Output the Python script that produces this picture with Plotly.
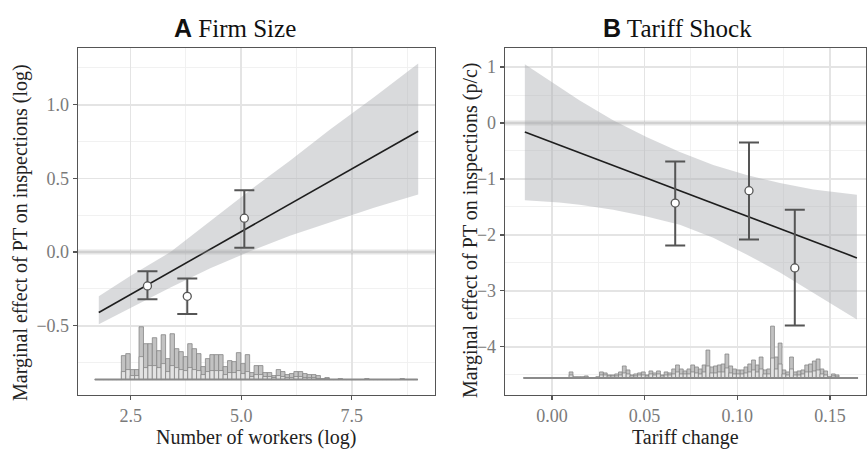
import plotly.graph_objects as go

# ---------------- Panel A: Firm Size ----------------
a_line_x = [1.78, 9.0]
a_line_y = [-0.41, 0.82]
a_band_x = [1.78, 2.5, 3.4, 4.3, 5.2, 6.1, 7.0, 8.0, 9.0]
a_band_hi = [-0.30, -0.16, 0.0, 0.21, 0.42, 0.62, 0.83, 1.05, 1.28]
a_band_lo = [-0.49, -0.38, -0.24, -0.11, 0.005, 0.11, 0.20, 0.30, 0.39]
a_pts_x = [2.88, 3.78, 5.07]
a_pts_y = [-0.23, -0.30, 0.23]
a_pts_hi = [-0.13, -0.18, 0.42]
a_pts_lo = [-0.32, -0.42, 0.03]

a_hist_start = 1.69
a_hist_width = 0.1
a_hist_total = ([0] * 6 +
                [24, 26, 10, 10, 53, 36, 36, 42, 29, 45, 21, 46, 31, 28, 23, 36, 31, 26, 13, 21,
                 25, 25, 25, 13, 19, 18, 27, 16, 25, 7, 14, 14, 7, 7, 4, 10, 8, 5, 6, 8,
                 8, 6, 5, 5, 4, 1, 2] +
                [0, 0, 1, 0, 0, 0, 0, 0, 1, 0, 0, 0, 0, 0, 0, 0, 1, 0, 0, 0])
a_hist_lower = ([0] * 6 +
                [8, 10, 4, 4, 23, 12, 14, 14, 12, 16, 8, 14, 12, 10, 9, 12, 10, 9, 5, 8,
                 9, 9, 9, 5, 7, 7, 9, 6, 8, 3, 5, 5, 3, 3, 2, 4, 3, 2, 2, 3,
                 3, 2, 2, 2, 1, 0, 1] +
                [0] * 20)
a_hist_base = -0.865
a_hist_scale = 1 / 148.0
a_x_ticks = [2.5, 5.0, 7.5]
a_x_labels = ["2.5", "5.0", "7.5"]
a_y_ticks = [-0.5, 0.0, 0.5, 1.0]
a_y_labels = ["\u22120.5", "0.0", "0.5", "1.0"]

# ---------------- Panel B: Tariff Shock ----------------
b_line_x = [-0.0146, 0.1645]
b_line_y = [-0.16, -2.41]
b_band_x = [-0.0146, 0.004, 0.015, 0.033, 0.051, 0.069, 0.087, 0.105, 0.123, 0.141, 0.1645]
b_band_hi = [1.05, 0.64, 0.40, 0.05, -0.25, -0.52, -0.75, -0.93, -1.07, -1.19, -1.28]
b_band_lo = [-1.38, -1.42, -1.46, -1.55, -1.67, -1.82, -2.05, -2.35, -2.67, -3.03, -3.51]
b_pts_x = [0.0665, 0.1063, 0.131]
b_pts_y = [-1.43, -1.21, -2.59]
b_pts_hi = [-0.69, -0.35, -1.55]
b_pts_lo = [-2.19, -2.08, -3.62]

b_hist_start = -0.0153
b_hist_width = 0.00205
b_hist_total = ([0] * 12 +
                [6, 1, 1, 1, 2, 0, 0, 1,
                 6, 5, 3, 3, 4, 6, 12, 8, 3, 4,
                 5, 6, 3, 7, 5, 7, 3, 6, 5, 9,
                 13, 9, 7, 9, 13, 11, 9, 13, 28, 11,
                 12, 13, 14, 24, 12, 9, 8, 8, 11, 14,
                 18, 13, 21, 8, 9, 52, 21, 35, 8, 6,
                 21, 6, 7, 8, 13, 14, 17, 19, 9, 7,
                 1, 4, 3] +
                [0] * 5)
b_hist_lower = ([0] * 12 +
                [3, 1, 1, 1, 1, 0, 0, 1,
                 3, 3, 2, 2, 2, 3, 5, 4, 2, 2,
                 3, 3, 2, 4, 3, 4, 2, 3, 3, 4,
                 6, 4, 4, 4, 6, 5, 4, 6, 12, 5,
                 5, 6, 6, 10, 5, 4, 4, 4, 5, 6,
                 8, 6, 9, 4, 4, 20, 9, 14, 4, 3,
                 9, 3, 3, 4, 6, 6, 7, 8, 4, 3,
                 1, 2, 1] +
                [0] * 5)
b_hist_base = -4.555
b_hist_scale = 1 / 56.2
b_x_ticks = [0.0, 0.05, 0.10, 0.15]
b_x_labels = ["0.00", "0.05", "0.10", "0.15"]
b_y_ticks = [-4, -3, -2, -1, 0, 1]
b_y_labels = ["\u22124", "\u22123", "\u22122", "\u22121", "0", "1"]

# ---------------- styling ----------------
W, H = 867, 450
SERIF = "Liberation Serif, Times New Roman, serif"
BAND = "rgba(170,172,178,0.45)"
DARK = "#555555"

fig = go.Figure()


def add_panel(xa, ya, line_x, line_y, band_x, hi, lo, px, py, phi, plo,
              h_start, h_width, h_total, h_lower, h_base, h_scale):
    # confidence band
    fig.add_trace(go.Scatter(
        x=band_x + band_x[::-1], y=hi + lo[::-1], fill="toself",
        fillcolor=BAND, line=dict(width=0), mode="lines",
        hoverinfo="skip", showlegend=False, xaxis=xa, yaxis=ya))
    # histogram
    n = len(h_total)
    centers = [h_start + (i + 0.5) * h_width for i in range(n)]
    tot = [v * h_scale for v in h_total]
    low = [v * h_scale for v in h_lower]
    fig.add_trace(go.Scatter(
        x=[h_start, h_start + n * h_width], y=[h_base, h_base], mode="lines",
        line=dict(color="#8a8a8a", width=2), showlegend=False,
        hoverinfo="skip", xaxis=xa, yaxis=ya))
    fig.add_trace(go.Bar(
        x=centers, y=tot, base=h_base, width=h_width,
        marker=dict(color="#c2c2c2", line=dict(color="#858585", width=0.8)),
        showlegend=False, xaxis=xa, yaxis=ya))
    fig.add_trace(go.Bar(
        x=centers, y=low, base=h_base, width=h_width,
        marker=dict(color="#e2e2e2", line=dict(color="#858585", width=0.8)),
        showlegend=False, xaxis=xa, yaxis=ya))
    # fitted line
    fig.add_trace(go.Scatter(
        x=line_x, y=line_y, mode="lines", line=dict(color="#1e1e1e", width=1.6),
        showlegend=False, xaxis=xa, yaxis=ya))
    # binned estimates
    fig.add_trace(go.Scatter(
        x=px, y=py, mode="markers",
        marker=dict(color="white", size=8, line=dict(color=DARK, width=1.3)),
        error_y=dict(type="data", symmetric=False,
                     array=[h - y for h, y in zip(phi, py)],
                     arrayminus=[y - l for l, y in zip(plo, py)],
                     color=DARK, thickness=2, width=10),
        showlegend=False, xaxis=xa, yaxis=ya))


add_panel("x", "y", a_line_x, a_line_y, a_band_x, a_band_hi, a_band_lo,
          a_pts_x, a_pts_y, a_pts_hi, a_pts_lo,
          a_hist_start, a_hist_width, a_hist_total, a_hist_lower, a_hist_base, a_hist_scale)
add_panel("x2", "y2", b_line_x, b_line_y, b_band_x, b_band_hi, b_band_lo,
          b_pts_x, b_pts_y, b_pts_hi, b_pts_lo,
          b_hist_start, b_hist_width, b_hist_total, b_hist_lower, b_hist_base, b_hist_scale)

ydom = [1 - 395 / H, 1 - 48 / H]


def axis(dom, rng, ticks, labels, minor_vals, anchor):
    return dict(
        domain=dom, range=rng, tickvals=ticks, ticktext=labels,
        showline=True, mirror=True, linecolor=DARK, linewidth=1.3,
        ticks="outside", ticklen=4, tickwidth=1.2, tickcolor=DARK,
        tickfont=dict(family=SERIF, size=18, color="#7a7a7a"),
        showgrid=True, gridcolor="#e4e4e4", gridwidth=1.6, zeroline=False,
        minor=dict(tickvals=minor_vals, showgrid=True, gridcolor="#efefef",
                   gridwidth=0.9, ticks=""),
        anchor=anchor, fixedrange=True)


fig.update_layout(
    width=W, height=H, margin=dict(l=0, r=0, t=0, b=0),
    paper_bgcolor="white", plot_bgcolor="white", barmode="overlay", bargap=0,
    showlegend=False, hovermode=False,
    xaxis=axis([78 / W, 435 / W], [1.31, 9.38], a_x_ticks, a_x_labels,
               [3.75, 6.25, 8.75], "y"),
    yaxis=axis(ydom, [-0.97, 1.385], a_y_ticks, a_y_labels,
               [-0.75, -0.25, 0.25, 0.75, 1.25], "x"),
    xaxis2=axis([505 / W, 866 / W], [-0.0253, 0.1694], b_x_ticks, b_x_labels,
                [-0.025, 0.025, 0.075, 0.125], "y2"),
    yaxis2=axis(ydom, [-4.86, 1.34], b_y_ticks, b_y_labels,
                [-4.5, -3.5, -2.5, -1.5, -0.5, 0.5], "x2"),
)

# reference lines at zero
for xr, yr in (("x domain", "y"), ("x2 domain", "y2")):
    fig.add_shape(type="line", xref=xr, yref=yr, x0=0, x1=1, y0=0, y1=0,
                  line=dict(color="rgba(160,160,160,0.28)", width=5), layer="above")

ann = []
ann.append(dict(x=235 / W, y=1 - 28 / H,
                text="<span style='font-family:Liberation Sans, Arial; font-weight:bold'>A</span> Firm Size",
                font=dict(family=SERIF, size=25, color="#111111")))
ann.append(dict(x=677 / W, y=1 - 28 / H,
                text="<span style='font-family:Liberation Sans, Arial; font-weight:bold'>B</span> Tariff Shock",
                font=dict(family=SERIF, size=25, color="#111111")))
ann.append(dict(x=256 / W, y=1 - 437 / H, text="Number of workers (log)",
                font=dict(family=SERIF, size=20, color="#222222")))
ann.append(dict(x=685 / W, y=1 - 437 / H, text="Tariff change",
                font=dict(family=SERIF, size=20, color="#222222")))
ann.append(dict(x=20 / W, y=1 - 233 / H, text="Marginal effect of PT on inspections (log)",
                textangle=-90, font=dict(family=SERIF, size=20, color="#222222")))
ann.append(dict(x=470 / W, y=1 - 231 / H, text="Marginal effect of PT on inspections (p/c)",
                textangle=-90, font=dict(family=SERIF, size=20, color="#222222")))
for a in ann:
    a.update(xref="paper", yref="paper", showarrow=False, xanchor="center", yanchor="middle")
fig.update_layout(annotations=ann)

fig.write_html("out.html", config={"displayModeBar": False, "staticPlot": True},
               post_script="document.body.style.margin='0px';document.body.style.padding='0px';")
